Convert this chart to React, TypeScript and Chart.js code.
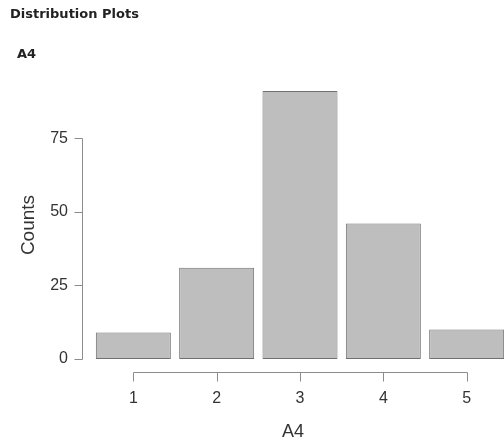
import { useEffect, useRef } from "react";
import { Chart, registerables } from "chart.js";

Chart.register(...registerables);

const chartTitle = "Distribution Plots";
const variableName = "A4";
const categories = [1, 2, 3, 4, 5];
const counts = [9, 31, 91, 46, 10];
const yTicks = [0, 25, 50, 75];
const yAxisTitle = "Counts";

export default function App() {
  const ref = useRef<HTMLCanvasElement>(null);

  useEffect(() => {
    if (!ref.current) return;

    const rAxes = {
      id: "rAxes",
      afterDraw(chart: any) {
        const { ctx, chartArea, scales } = chart;
        const x = scales.x;
        const y = scales.y;
        ctx.save();
        ctx.strokeStyle = "#8c8c8c";
        ctx.lineWidth = 1;
        ctx.beginPath();
        const ax = Math.round(chartArea.left) + 0.5;
        ctx.moveTo(ax, Math.round(y.getPixelForValue(yTicks[0])) + 0.5);
        ctx.lineTo(ax, Math.round(y.getPixelForValue(yTicks[yTicks.length - 1])) + 0.5);
        yTicks.forEach((v) => {
          const py = Math.round(y.getPixelForValue(v)) + 0.5;
          ctx.moveTo(ax - 8, py);
          ctx.lineTo(ax, py);
        });
        const ay = Math.round(chartArea.bottom) + 0.5;
        ctx.moveTo(Math.round(x.getPixelForValue(categories[0])) + 0.5, ay);
        ctx.lineTo(Math.round(x.getPixelForValue(categories[categories.length - 1])) + 0.5, ay);
        categories.forEach((c) => {
          const px = Math.round(x.getPixelForValue(c)) + 0.5;
          ctx.moveTo(px, ay);
          ctx.lineTo(px, ay + 9);
        });
        ctx.stroke();

        ctx.fillStyle = "#222";
        ctx.font = "bold 13px 'DejaVu Sans'";
        ctx.textBaseline = "middle";
        ctx.textAlign = "left";
        ctx.fillText(chartTitle, 10, 15);
        ctx.fillText(variableName, 17, 55);
        ctx.restore();
      },
    };

    const chart = new Chart(ref.current, {
      type: "bar",
      data: {
        datasets: [
          {
            data: categories.map((c, i) => ({ x: c, y: counts[i] })),
            backgroundColor: "#bebebe",
            borderColor: "#707070",
            borderWidth: 1,
            borderSkipped: false,
            barPercentage: 0.9,
            categoryPercentage: 1,
          },
        ],
      },
      options: {
        animation: false,
        responsive: false,
        devicePixelRatio: 1,
        layout: { padding: { top: 78, left: 0, right: 0, bottom: 0 } },
        plugins: {
          legend: { display: false },
          tooltip: { enabled: false },
          title: { display: false },
        },
        scales: {
          x: {
            type: "linear",
            offset: false,
            min: 0.384,
            max: 5.448,
            grid: { display: false, drawTicks: false, offset: false },
            border: { display: false },
            afterBuildTicks: (scale: any) => {
              scale.ticks = categories.map((c) => ({ value: c }));
            },
            afterFit: (scale: any) => {
              scale.height = 73;
            },
            ticks: {
              padding: 17,
              color: "#333",
              font: { family: "'Liberation Sans', Arial, sans-serif", size: 16 },
              callback: (v: any) => String(v),
              maxRotation: 0,
              autoSkip: false,
            },
            title: {
              display: true,
              text: variableName,
              color: "#333",
              font: { family: "'Liberation Sans', Arial, sans-serif", size: 18 },
              padding: { top: 0, bottom: 2 },
            },
          },
          y: {
            type: "linear",
            min: -4.4,
            max: 95.4,
            grid: { display: false, drawTicks: false },
            border: { display: false },
            afterBuildTicks: (scale: any) => {
              scale.ticks = yTicks.map((v) => ({ value: v }));
            },
            afterFit: (scale: any) => {
              scale.width = 82;
            },
            ticks: {
              padding: 14,
              color: "#333",
              font: { family: "'Liberation Sans', Arial, sans-serif", size: 16 },
              callback: (v: any) => String(v),
            },
            title: {
              display: true,
              text: yAxisTitle,
              color: "#333",
              font: { family: "'Liberation Sans', Arial, sans-serif", size: 19 },
              padding: { top: 17, bottom: 0 },
            },
          },
        },
      },
      plugins: [rAxes],
    });

    return () => chart.destroy();
  }, []);

  return (
    <div style={{ position: "fixed", left: 0, top: 0, width: 504, height: 445, background: "#fff" }}>
      <canvas ref={ref} width={504} height={445} />
    </div>
  );
}
